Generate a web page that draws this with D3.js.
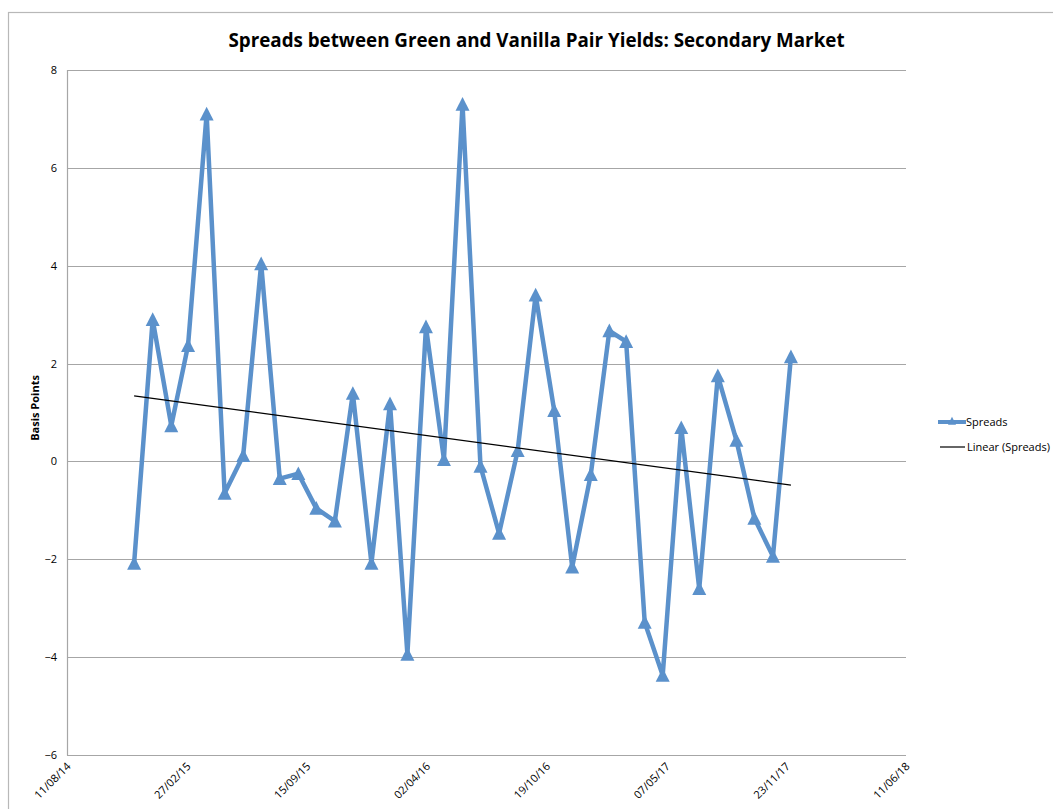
<!DOCTYPE html>
<html><head><meta charset="utf-8">
<script src="https://cdn.jsdelivr.net/npm/d3@7"></script>
<style>
body{margin:0;background:#fff;}
text{font-family:"Open Sans","DejaVu Sans",sans-serif;}
</style></head>
<body><svg id="c" width="1053" height="809"></svg>
<script>
const dates = ["2014-12-01","2015-01-01","2015-02-01","2015-03-01","2015-04-01","2015-05-01","2015-06-01","2015-07-01","2015-08-01","2015-09-01","2015-10-01","2015-11-01","2015-12-01","2016-01-01","2016-02-01","2016-03-01","2016-04-01","2016-05-01","2016-06-01","2016-07-01","2016-08-01","2016-09-01","2016-10-01","2016-11-01","2016-12-01","2017-01-01","2017-02-01","2017-03-01","2017-04-01","2017-05-01","2017-06-01","2017-07-01","2017-08-01","2017-09-01","2017-10-01","2017-11-01","2017-12-01"];
const spreads = [-2.08,2.9,0.73,2.37,7.1,-0.65,0.12,4.04,-0.35,-0.25,-0.96,-1.22,1.39,-2.08,1.18,-3.94,2.75,0.04,7.3,-0.1,-1.47,0.22,3.4,1.04,-2.16,-0.27,2.67,2.45,-3.29,-4.37,0.69,-2.6,1.75,0.43,-1.16,-1.94,2.14];
const xTickLabels = ["11/08/14","27/02/15","15/09/15","02/04/16","19/10/16","07/05/17","23/11/17","11/06/18"];
const yTicks = [-6,-4,-2,0,2,4,6,8];
const title = "Spreads between Green and Vanilla Pair Yields: Secondary Market";
const yLabel = "Basis Points";
const legendLabels = ["Spreads","Linear (Spreads)"];

const parse = d3.timeParse("%Y-%m-%d");
const parseTick = d3.timeParse("%d/%m/%y");
const data = dates.map((d,i)=>({date:parse(d), v:spreads[i]}));
const tickDates = xTickLabels.map(parseTick);

const svg = d3.select("#c");
const L=67, R=906, T=70, B=755;
const blue = "#5b91cb";

// outer frame
svg.append("rect").attr("x",8.5).attr("y",12.5).attr("width",1100).attr("height",900)
  .attr("fill","none").attr("stroke","#b8b8b8").attr("stroke-width",1.2);

const x = d3.scaleTime().domain([tickDates[0], tickDates[tickDates.length-1]]).range([L,R]);
const y = d3.scaleLinear().domain([-6,8]).range([B,T]);

// gridlines
svg.append("g").selectAll("line").data(yTicks).join("line")
  .attr("x1",L).attr("x2",R).attr("y1",d=>Math.round(y(d))+0.5).attr("y2",d=>Math.round(y(d))+0.5)
  .attr("stroke","#a6a6a6").attr("stroke-width",1.2);
svg.append("line").attr("x1",L+0.5).attr("x2",L+0.5).attr("y1",T).attr("y2",B+0.5)
  .attr("stroke","#a6a6a6").attr("stroke-width",1.2);

const yAxis = d3.axisLeft(y).tickValues(yTicks).tickSize(0).tickPadding(10).tickFormat(d3.format("d"));
const gy = svg.append("g").attr("transform",`translate(${L},0)`).call(yAxis);
gy.select(".domain").remove();
gy.selectAll("text").attr("font-size",11).attr("fill","#000").attr("font-family","Open Sans");

const xAxis = d3.axisBottom(x).tickValues(tickDates).tickSize(0).tickFormat((d,i)=>xTickLabels[i]);
const gx = svg.append("g").attr("transform",`translate(0,${B})`).call(xAxis);
gx.select(".domain").remove();
gx.selectAll("text").attr("font-size",11).attr("fill","#000").attr("font-family","Open Sans")
  .attr("text-anchor","end").attr("dy",null).attr("y",0)
  .attr("transform","translate(4,12) rotate(-45)");

// trendline (linear regression)
const xs = data.map(d=>+d.date), ys = data.map(d=>d.v);
const mx = d3.mean(xs), my = d3.mean(ys);
const slope = d3.sum(xs.map((xv,i)=>(xv-mx)*(ys[i]-my)))/d3.sum(xs.map(xv=>(xv-mx)*(xv-mx)));
const icpt = my - slope*mx;
const x0 = xs[0], x1 = xs[xs.length-1];

const line = d3.line().x(d=>x(d.date)).y(d=>y(d.v));
svg.append("path").datum(data).attr("d",line).attr("fill","none")
  .attr("stroke",blue).attr("stroke-width",4.5).attr("stroke-linejoin","miter").attr("stroke-miterlimit",3);

const triType = {draw(ctx,size){const h=Math.sqrt(size); ctx.moveTo(0,-h*0.52); ctx.lineTo(h*0.5,h*0.46); ctx.lineTo(-h*0.5,h*0.46); ctx.closePath();}};
const tri = d3.symbol().type(triType).size(196);
svg.append("g").selectAll("path").data(data).join("path")
  .attr("d",tri).attr("transform",d=>`translate(${x(d.date)},${y(d.v)})`)
  .attr("fill",blue);

svg.append("line").attr("x1",x(new Date(x0))).attr("y1",y(slope*x0+icpt))
  .attr("x2",x(new Date(x1))).attr("y2",y(slope*x1+icpt))
  .attr("stroke","#000").attr("stroke-width",1.2);

svg.append("text").attr("x",536.5).attr("y",47).attr("text-anchor","middle")
  .attr("font-size",18.8).attr("font-weight","bold").attr("fill","#000").text(title);

svg.append("text").attr("transform","translate(39,408) rotate(-90)").attr("text-anchor","middle")
  .attr("font-size",11).attr("font-weight","bold").attr("fill","#000").text(yLabel);

const lg = svg.append("g");
lg.append("line").attr("x1",938).attr("x2",966).attr("y1",422).attr("y2",422).attr("stroke",blue).attr("stroke-width",4);
lg.append("path").attr("d",d3.symbol().type(triType).size(64)).attr("transform","translate(952,421)").attr("fill",blue);
lg.append("text").attr("x",966).attr("y",426).attr("font-size",11).attr("fill","#000").text(legendLabels[0]);
lg.append("line").attr("x1",940).attr("x2",965).attr("y1",447).attr("y2",447).attr("stroke","#000").attr("stroke-width",1.2);
lg.append("text").attr("x",967).attr("y",451).attr("font-size",11).attr("fill","#000").text(legendLabels[1]);
</script></body></html>
